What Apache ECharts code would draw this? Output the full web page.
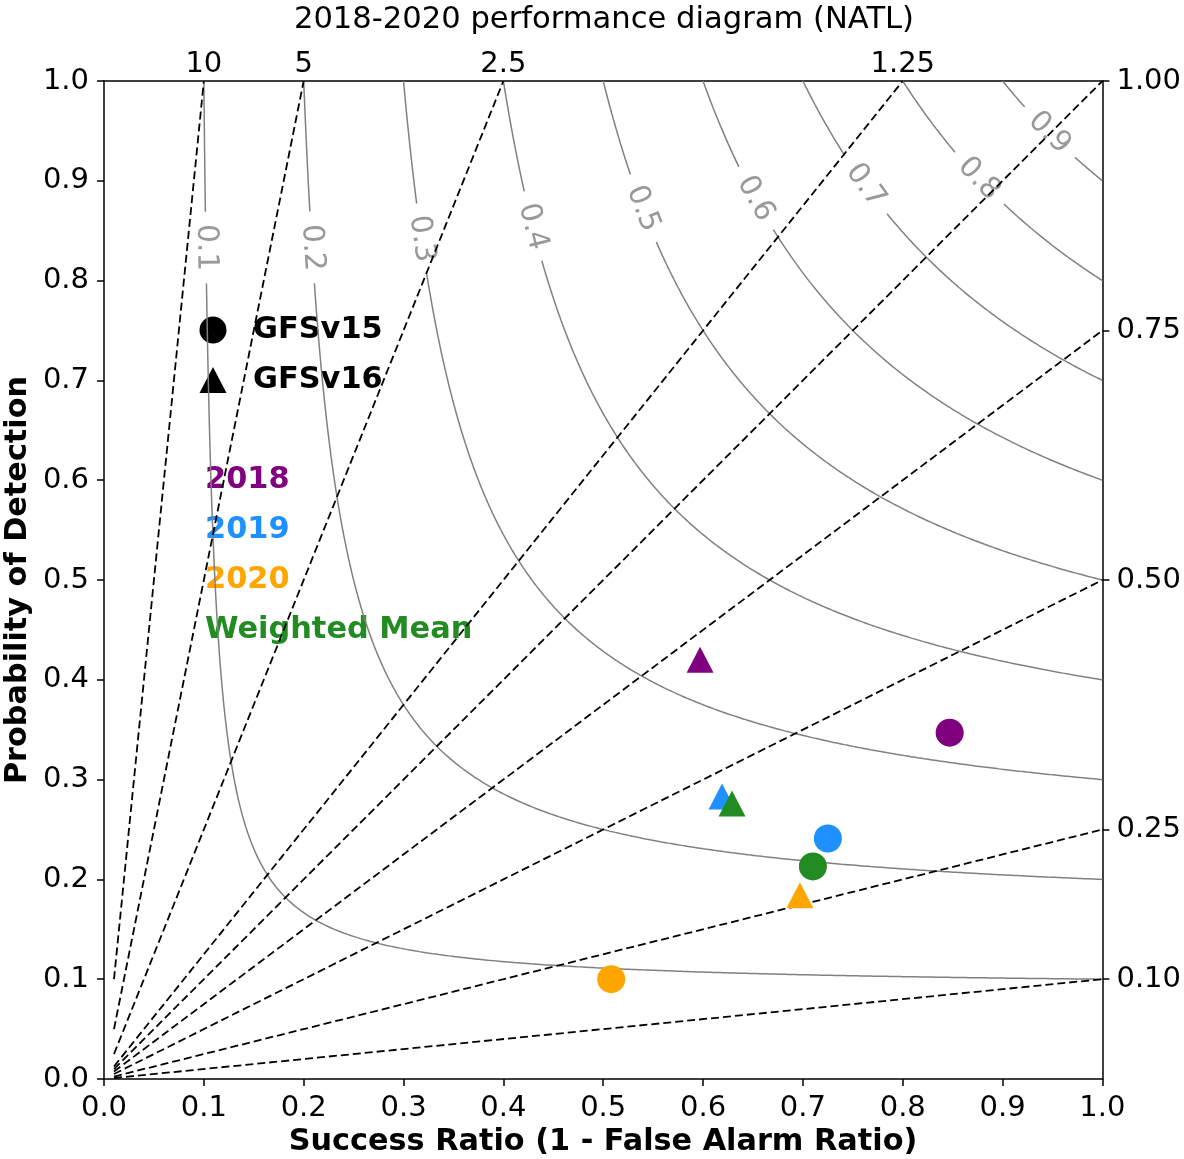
<!DOCTYPE html>
<html>
<head>
<meta charset="utf-8">
<script src="https://cdn.jsdelivr.net/npm/echarts@6/dist/echarts.min.js"></script>
<style>
html,body{margin:0;padding:0;background:#fff;}
#chart{width:1184px;height:1159px;}
</style>
</head>
<body>
<div id="chart"></div>
<script>
// ---- data ----
const csiLevels = [0.1, 0.2, 0.3, 0.4, 0.5, 0.6, 0.7, 0.8, 0.9];
const csiLabelPOD = [0.833, 0.833, 0.842, 0.854, 0.872, 0.882, 0.895, 0.902, 0.948];
const biasLevels = [10, 5, 2.5, 1.25, 1, 0.75, 0.5, 0.25, 0.1];
const topTickValues = [0.1, 0.2, 0.4, 0.8];
const topTickLabels = ['10', '5', '2.5', '1.25'];
const rightTickValues = [1.0, 0.75, 0.5, 0.25, 0.1];
const rightTickLabels = ['1.00', '0.75', '0.50', '0.25', '0.10'];

const years = ['2018', '2019', '2020', 'Weighted Mean'];
const yearColors = ['#800080', '#1E90FF', '#FFA500', '#228B22'];
const gfsv15SR  = [0.847, 0.725, 0.508, 0.710];
const gfsv15POD = [0.347, 0.241, 0.100, 0.213];
const gfsv16SR  = [0.597, 0.619, 0.697, 0.629];
const gfsv16POD = [0.420, 0.283, 0.184, 0.276];
const modelNames = ['GFSv15', 'GFSv16'];

// ---- build ----
const FONT = 'DejaVu Sans';
const chart = echarts.init(document.getElementById('chart'), null, {renderer: 'canvas'});

function podOnCsi(c, s) { return 1 / (1 / c + 1 - 1 / s); }

const series = [];
const halfGap = 0.0355;

csiLevels.forEach((c, i) => {
  const pts = [];
  const d = 2 * c / (1 + c);
  const N = 500;
  for (let k = 0; k <= N; k++) {
    const p = 1 - (1 - d) * k / N;
    pts.push([podOnCsi(c, p), p]);
  }
  for (let k = 1; k <= N; k++) {
    const s = d + (1 - d) * k / N;
    pts.push([s, podOnCsi(c, s)]);
  }
  const arc = [0];
  for (let k = 1; k < pts.length; k++) {
    const dx = pts[k][0] - pts[k - 1][0], dy = pts[k][1] - pts[k - 1][1];
    arc.push(arc[k - 1] + Math.sqrt(dx * dx + dy * dy));
  }
  const lp = csiLabelPOD[i];
  const ls = podOnCsi(c, lp);
  let best = 0, bd = 1e9;
  pts.forEach((q, k) => {
    const dd = Math.hypot(q[0] - ls, q[1] - lp);
    if (dd < bd) { bd = dd; best = k; }
  });
  const a0 = arc[best];
  const seg1 = [], seg2 = [];
  pts.forEach((q, k) => {
    if (arc[k] < a0 - halfGap) seg1.push(q);
    else if (arc[k] > a0 + halfGap) seg2.push(q);
  });
  [seg1, seg2].forEach(seg => {
    series.push({
      type: 'line', data: seg, showSymbol: false, symbol: 'none', silent: true, z: 1,
      lineStyle: {color: '#808080', width: 1.5}, clip: true
    });
  });
});

// contour labels
const labelData = csiLevels.map((c, i) => {
  const p = csiLabelPOD[i];
  const s = podOnCsi(c, p);
  const D = 1 / c + 1 - 1 / s;
  const slope = -(1 / (s * s)) / (D * D);
  const deg = Math.atan(slope) * 180 / Math.PI;
  return {value: [s, p], name: String(c), label: {rotate: deg}};
});
series.push({
  type: 'scatter', data: labelData, symbolSize: 1, silent: true, z: 2,
  itemStyle: {color: 'rgba(0,0,0,0)'},
  label: {
    show: true, position: 'inside', formatter: p => p.name,
    fontFamily: FONT, fontSize: 29.5, color: '#808080', align: 'center', verticalAlign: 'middle'
  }
});

// bias lines
biasLevels.forEach(b => {
  const end = b >= 1 ? [1 / b, 1] : [1, b];
  series.push({
    type: 'line', data: [[0.01, 0.01 * b], end], showSymbol: false, symbol: 'none', silent: true, z: 3,
    lineStyle: {color: '#000', width: 1.8, type: [8, 4]}
  });
});

// points
series.push({
  type: 'scatter', name: modelNames[0], symbol: 'circle', symbolSize: 28, z: 5,
  data: gfsv15SR.map((s, i) => ({value: [s, gfsv15POD[i]], itemStyle: {color: yearColors[i], opacity: 1}}))
});
series.push({
  type: 'scatter', name: modelNames[1], symbol: 'triangle', symbolSize: [27, 26], z: 6,
  data: gfsv16SR.map((s, i) => ({value: [s, gfsv16POD[i]], itemStyle: {color: yearColors[i], opacity: 1}}))
});

function findLabel(vals, labs, v) {
  for (let i = 0; i < vals.length; i++) if (Math.abs(vals[i] - v) < 1e-6) return labs[i];
  return '';
}

const axisLineStyle = {color: '#000', width: 1.5};
const tickLabel = {fontFamily: FONT, fontSize: 29, color: '#000'};

const LEG_FONT = 'bold 30.4px "DejaVu Sans"';
const graphic = [
  {type: 'text', x: 604, y: 20, style: {text: '2018-2020 performance diagram (NATL)', font: '30.6px "DejaVu Sans"', fill: '#000', textAlign: 'center', textVerticalAlign: 'middle'}},
  // legend markers
  {type: 'circle', shape: {cx: 213, cy: 330, r: 13.5}, style: {fill: '#000'}},
  {type: 'polygon', shape: {points: [[213, 367], [199.5, 393], [226.5, 393]]}, style: {fill: '#000'}},
  {type: 'text', x: 253, y: 330, style: {text: modelNames[0], font: LEG_FONT, fill: '#000', textVerticalAlign: 'middle'}},
  {type: 'text', x: 253, y: 380, style: {text: modelNames[1], font: LEG_FONT, fill: '#000', textVerticalAlign: 'middle'}}
];
years.forEach((y, i) => {
  graphic.push({type: 'text', x: 205, y: 480 + 50 * i, style: {text: y, font: LEG_FONT, fill: yearColors[i], textVerticalAlign: 'middle'}});
});
graphic.push({type: 'text', x: 603, y: 1142, style: {text: 'Success Ratio (1 - False Alarm Ratio)', font: 'bold 30.3px "DejaVu Sans"', fill: '#000', textAlign: 'center', textVerticalAlign: 'middle'}});
graphic.push({type: 'text', x: 18, y: 580, rotation: Math.PI / 2, style: {text: 'Probability of Detection', font: 'bold 30.3px "DejaVu Sans"', fill: '#000', textAlign: 'center', textVerticalAlign: 'middle'}});

const option = {
  animation: false,
  backgroundColor: '#fff',
  grid: {left: 104, right: 81, top: 81, bottom: 80, containLabel: false},
  xAxis: [
    {
      type: 'value', position: 'bottom', min: 0, max: 1, interval: 0.1,
      axisLine: {show: true, lineStyle: axisLineStyle, onZero: false},
      axisTick: {show: true, inside: false, length: 7, lineStyle: axisLineStyle},
      axisLabel: Object.assign({margin: 15, formatter: v => v.toFixed(1)}, tickLabel),
      splitLine: {show: false}
    },
    {
      type: 'value', position: 'top', min: 0, max: 1,
      axisLine: {show: true, lineStyle: axisLineStyle, onZero: false},
      axisTick: {show: false},
      axisLabel: Object.assign({margin: 2, customValues: topTickValues, formatter: v => findLabel(topTickValues, topTickLabels, v)}, tickLabel),
      splitLine: {show: false}
    }
  ],
  yAxis: [
    {
      type: 'value', position: 'left', min: 0, max: 1, interval: 0.1,
      axisLine: {show: true, lineStyle: axisLineStyle, onZero: false},
      axisTick: {show: true, inside: false, length: 7, lineStyle: axisLineStyle},
      axisLabel: Object.assign({margin: 15, padding: [4, 0, 0, 0], formatter: v => v.toFixed(1)}, tickLabel),
      splitLine: {show: false}
    },
    {
      type: 'value', position: 'right', min: 0, max: 1,
      axisLine: {show: true, lineStyle: axisLineStyle, onZero: false},
      axisTick: {show: true, inside: false, length: 7, lineStyle: axisLineStyle, customValues: rightTickValues},
      axisLabel: Object.assign({margin: 14, padding: [4, 0, 0, 0], customValues: rightTickValues, formatter: v => findLabel(rightTickValues, rightTickLabels, v)}, tickLabel),
      splitLine: {show: false}
    }
  ],
  graphic: graphic,
  series: series
};
chart.setOption(option);
</script>
</body>
</html>
